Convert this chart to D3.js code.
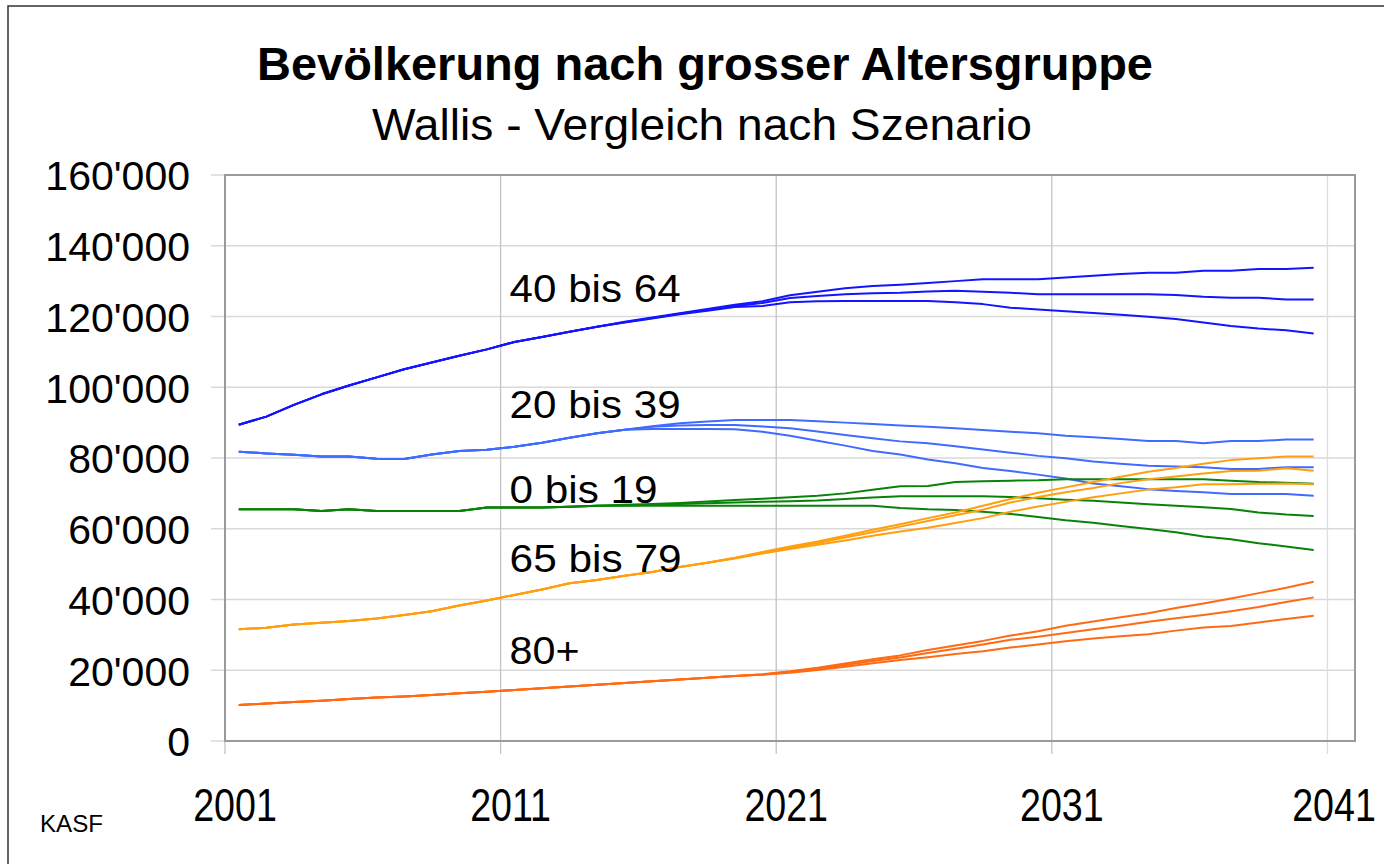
<!DOCTYPE html>
<html>
<head>
<meta charset="utf-8">
<script src="https://cdn.jsdelivr.net/npm/d3@7"></script>
<style>
  html, body { margin: 0; padding: 0; background: #fff; }
  svg { display: block; font-family: "Liberation Sans", Arial, sans-serif; }
</style>
</head>
<body>
<svg id="chart" width="1384" height="864"></svg>
<script>
// years 2001..2040, values in thousands
const years = d3.range(2001, 2041);
const xTickYears = [2001, 2011, 2021, 2031, 2041];
const yTicks = [0, 20, 40, 60, 80, 100, 120, 140, 160];

// 40 bis 64
const age40_64_hoch = [89.4, 91.7, 95.0, 98.0, 100.5, 102.8, 105.1, 107.0, 108.9, 110.7, 112.8, 114.2, 115.7, 117.1,
  118.5, 119.7, 120.9, 122.1, 123.3, 124.3, 126.0, 127.0, 128.0, 128.6, 129.0, 129.5, 130.0, 130.5, 130.5, 130.5,
  131.0, 131.5, 132.0, 132.4, 132.4, 132.9, 132.9, 133.4, 133.4, 133.8];
const age40_64_mittel = [89.4, 91.7, 95.0, 98.0, 100.5, 102.8, 105.1, 107.0, 108.9, 110.7, 112.8, 114.2, 115.7, 117.1,
  118.4, 119.6, 120.8, 121.9, 123.0, 123.8, 125.2, 125.8, 126.3, 126.6, 126.7, 127.1, 127.3, 127.0, 126.7, 126.3,
  126.3, 126.3, 126.3, 126.3, 126.1, 125.6, 125.3, 125.3, 124.8, 124.8];
const age40_64_tief = [89.4, 91.7, 95.0, 98.0, 100.5, 102.8, 105.1, 107.0, 108.9, 110.7, 112.8, 114.2, 115.7, 117.1,
  118.3, 119.4, 120.6, 121.6, 122.7, 123.0, 124.0, 124.3, 124.4, 124.4, 124.4, 124.4, 124.0, 123.5, 122.5, 122.0,
  121.5, 121.0, 120.5, 119.9, 119.3, 118.3, 117.3, 116.6, 116.1, 115.2];

// 20 bis 39
const age20_39_hoch = [81.8, 81.3, 80.9, 80.4, 80.4, 79.8, 79.7, 81.0, 82.0, 82.3, 83.2, 84.3, 85.7, 87.0,
  88.0, 89.0, 89.8, 90.3, 90.75, 90.75, 90.75, 90.4, 90.0, 89.6, 89.2, 88.8, 88.4, 87.9, 87.4, 87.0,
  86.3, 85.9, 85.4, 84.8, 84.8, 84.2, 84.8, 84.8, 85.2, 85.2];
const age20_39_mittel = [81.8, 81.3, 80.9, 80.4, 80.4, 79.8, 79.7, 81.0, 82.0, 82.3, 83.2, 84.3, 85.7, 87.0,
  88.0, 88.8, 89.2, 89.3, 89.3, 88.9, 88.4, 87.5, 86.5, 85.6, 84.7, 84.2, 83.3, 82.4, 81.5, 80.6,
  79.9, 79.0, 78.4, 77.8, 77.6, 77.4, 76.9, 76.9, 77.4, 77.4];
const age20_39_tief = [81.8, 81.3, 80.9, 80.4, 80.4, 79.8, 79.7, 81.0, 82.0, 82.3, 83.2, 84.3, 85.7, 87.0,
  88.0, 88.2, 88.2, 88.2, 88.1, 87.4, 86.3, 84.9, 83.5, 82.0, 81.0, 79.6, 78.5, 77.2, 76.3, 75.3,
  74.2, 72.8, 72.0, 71.2, 70.7, 70.3, 69.8, 69.8, 69.8, 69.3];

// 0 bis 19
const age0_19_hoch = [65.5, 65.5, 65.5, 65.0, 65.5, 65.0, 65.0, 65.0, 65.0, 66.0, 66.0, 66.0, 66.2, 66.5,
  66.8, 67.0, 67.3, 67.7, 68.1, 68.5, 68.9, 69.3, 70.0, 71.0, 72.0, 72.1, 73.2, 73.4, 73.6, 73.7,
  74.0, 74.0, 74.0, 74.0, 74.0, 74.0, 73.6, 73.2, 73.0, 72.7];
const age0_19_mittel = [65.5, 65.5, 65.5, 65.0, 65.5, 65.0, 65.0, 65.0, 65.0, 66.0, 66.0, 66.0, 66.2, 66.5,
  66.6, 66.8, 67.0, 67.2, 67.4, 67.6, 67.8, 68.0, 68.4, 68.8, 69.2, 69.2, 69.2, 69.2, 69.0, 68.6,
  68.2, 67.9, 67.4, 66.9, 66.5, 66.1, 65.6, 64.6, 64.0, 63.6];
const age0_19_tief = [65.5, 65.5, 65.5, 65.0, 65.5, 65.0, 65.0, 65.0, 65.0, 66.0, 66.0, 66.0, 66.2, 66.5,
  66.5, 66.5, 66.5, 66.5, 66.5, 66.5, 66.5, 66.5, 66.5, 66.5, 65.9, 65.5, 65.3, 64.8, 64.2, 63.3,
  62.4, 61.7, 60.8, 59.9, 59.0, 57.8, 57.0, 55.9, 55.0, 54.0];

// 65 bis 79
const age65_79_hoch = [31.6, 32.0, 32.9, 33.4, 33.9, 34.6, 35.6, 36.7, 38.3, 39.7, 41.3, 42.8, 44.6, 45.5,
  46.7, 47.8, 49.2, 50.4, 51.8, 53.4, 55.0, 56.4, 58.0, 59.7, 61.3, 63.0, 64.6, 66.5, 68.4, 70.2,
  71.7, 73.2, 74.7, 76.1, 77.2, 78.4, 79.4, 79.9, 80.4, 80.4];
const age65_79_mittel = [31.6, 32.0, 32.9, 33.4, 33.9, 34.6, 35.6, 36.7, 38.3, 39.7, 41.3, 42.8, 44.6, 45.5,
  46.7, 47.8, 49.2, 50.4, 51.7, 53.2, 54.6, 56.0, 57.5, 59.0, 60.6, 62.2, 63.8, 65.4, 67.4, 69.0,
  70.3, 71.5, 72.9, 74.0, 74.8, 75.6, 76.3, 76.4, 77.1, 76.4];
const age65_79_tief = [31.6, 32.0, 32.9, 33.4, 33.9, 34.6, 35.6, 36.7, 38.3, 39.7, 41.3, 42.8, 44.6, 45.5,
  46.7, 47.8, 49.2, 50.4, 51.6, 53.0, 54.3, 55.5, 56.7, 58.0, 59.2, 60.3, 61.6, 63.0, 64.8, 66.3,
  67.6, 68.9, 70.0, 71.1, 71.7, 72.6, 72.6, 72.7, 72.8, 72.6];

// 80+
const age80_hoch = [10.2, 10.6, 11.0, 11.4, 11.9, 12.3, 12.6, 13.0, 13.5, 13.9, 14.4, 14.9, 15.4, 15.9,
  16.4, 16.9, 17.4, 17.9, 18.4, 18.9, 19.7, 20.7, 21.9, 23.1, 24.2, 25.7, 27.0, 28.3, 29.8, 31.0,
  32.6, 33.8, 35.0, 36.1, 37.6, 38.9, 40.3, 41.8, 43.3, 45.0];
const age80_mittel = [10.2, 10.6, 11.0, 11.4, 11.9, 12.3, 12.6, 13.0, 13.5, 13.9, 14.4, 14.9, 15.4, 15.9,
  16.4, 16.9, 17.4, 17.9, 18.4, 18.8, 19.5, 20.4, 21.5, 22.6, 23.6, 24.9, 26.1, 27.3, 28.6, 29.5,
  30.5, 31.6, 32.6, 33.7, 34.7, 35.6, 36.7, 37.9, 39.3, 40.6];
const age80_tief = [10.2, 10.6, 11.0, 11.4, 11.9, 12.3, 12.6, 13.0, 13.5, 13.9, 14.4, 14.9, 15.4, 15.9,
  16.4, 16.9, 17.4, 17.9, 18.4, 18.7, 19.3, 20.1, 21.0, 22.0, 22.9, 23.7, 24.6, 25.4, 26.4, 27.3,
  28.2, 29.0, 29.6, 30.2, 31.2, 32.1, 32.5, 33.5, 34.5, 35.4];

const groups = [
  { label: "40 bis 64", color: "#1414ff", series: [age40_64_hoch, age40_64_mittel, age40_64_tief] },
  { label: "20 bis 39", color: "#3f6bff", series: [age20_39_hoch, age20_39_mittel, age20_39_tief] },
  { label: "0 bis 19", color: "#0a820a", series: [age0_19_hoch, age0_19_mittel, age0_19_tief] },
  { label: "65 bis 79", color: "#ff9f0f", series: [age65_79_hoch, age65_79_mittel, age65_79_tief] },
  { label: "80+", color: "#ff6a14", series: [age80_hoch, age80_mittel, age80_tief] }
];

// label placement for the group names (value in thousands where the text sits)
const groupLabelPos = [
  { label: "40 bis 64", year: 2011, base: 124.1, len: 171 },
  { label: "20 bis 39", year: 2011, base: 91.3, len: 171 },
  { label: "0 bis 19", year: 2011, base: 67.2, len: 148 },
  { label: "65 bis 79", year: 2011, base: 47.7, len: 172 },
  { label: "80+", year: 2011, base: 21.9, len: 70 }
];

const svg = d3.select("#chart");
const plot = { left: 225, right: 1355, top: 175, bottom: 741 };

const x = d3.scaleBand()
  .domain(d3.range(2001, 2042))
  .range([plot.left, plot.right])
  .padding(0);
const y = d3.scaleLinear()
  .domain([0, 160])
  .range([plot.bottom, plot.top]);
const xc = (yr) => x(yr) + x.bandwidth() / 2;
const fmt = (v) => d3.format(",")(v * 1000).replace(/,/g, "'");

// outer chart frame
svg.append("rect")
  .attr("x", 8).attr("y", 6)
  .attr("width", 1500).attr("height", 1000)
  .attr("fill", "none")
  .attr("stroke", "#333")
  .attr("stroke-width", 1.5);

// horizontal grid
svg.append("g")
  .selectAll("line")
  .data(yTicks)
  .join("line")
  .attr("x1", plot.left - 14)
  .attr("x2", plot.right)
  .attr("y1", (d) => y(d))
  .attr("y2", (d) => y(d))
  .attr("stroke", "#d9d9d9")
  .attr("stroke-width", 1.5);

// vertical grid
svg.append("g")
  .selectAll("line")
  .data(xTickYears)
  .join("line")
  .attr("x1", (d) => x(d))
  .attr("x2", (d) => x(d))
  .attr("y1", plot.top)
  .attr("y2", plot.bottom + 13)
  .attr("stroke", (d) => d === 2041 ? "#dedede" : "#c4c4c4")
  .attr("stroke-width", 1.3);

// plot border
svg.append("rect")
  .attr("x", plot.left).attr("y", plot.top)
  .attr("width", plot.right - plot.left)
  .attr("height", plot.bottom - plot.top)
  .attr("fill", "none")
  .attr("stroke", "#9a9a9a")
  .attr("stroke-width", 2);

// y axis labels
const yAxis = d3.axisLeft(y)
  .tickValues(yTicks)
  .tickSize(0)
  .tickPadding(35)
  .tickFormat(fmt);
const yAxisG = svg.append("g")
  .attr("transform", `translate(${plot.left},0)`)
  .call(yAxis);
yAxisG.select(".domain").remove();
yAxisG.selectAll("text")
  .attr("font-size", 41)
  .attr("fill", "#000")
  .attr("dy", "0.36em")
  .style("font-family", "'Liberation Sans', Arial, sans-serif");

// x axis labels (narrowed horizontally like the original)
svg.append("g")
  .selectAll("text")
  .data(xTickYears)
  .join("text")
  .attr("transform", (d) => `translate(${Math.min(x(d) + 10, 1334)},821) scale(0.8,1)`)
  .attr("text-anchor", "middle")
  .attr("font-size", 47)
  .text((d) => d);

// lines
const line = d3.line()
  .x((d, i) => xc(years[i]))
  .y((d) => y(d));

groups.forEach((g) => {
  svg.append("g")
    .selectAll("path")
    .data(g.series)
    .join("path")
    .attr("d", line)
    .attr("fill", "none")
    .attr("stroke", g.color)
    .attr("stroke-width", 2)
    .attr("stroke-linejoin", "round");
});

// group labels
svg.append("g")
  .selectAll("text")
  .data(groupLabelPos)
  .join("text")
  .attr("x", (d) => x(d.year) + 9)
  .attr("y", (d) => y(d.base))
  .attr("font-size", 38)
  .attr("textLength", (d) => d.len)
  .attr("lengthAdjust", "spacingAndGlyphs")
  .text((d) => d.label);

// titles
svg.append("text")
  .attr("x", 257).attr("y", 80)
  .attr("font-size", 46.5)
  .attr("font-weight", "bold")
  .attr("textLength", 896)
  .attr("lengthAdjust", "spacingAndGlyphs")
  .text("Bevölkerung nach grosser Altersgruppe");

svg.append("text")
  .attr("x", 372).attr("y", 140)
  .attr("font-size", 44)
  .attr("textLength", 660)
  .attr("lengthAdjust", "spacingAndGlyphs")
  .text("Wallis - Vergleich nach Szenario");

svg.append("text")
  .attr("x", 40).attr("y", 832)
  .attr("font-size", 24)
  .attr("textLength", 63)
  .attr("lengthAdjust", "spacingAndGlyphs")
  .text("KASF");
</script>
</body>
</html>
